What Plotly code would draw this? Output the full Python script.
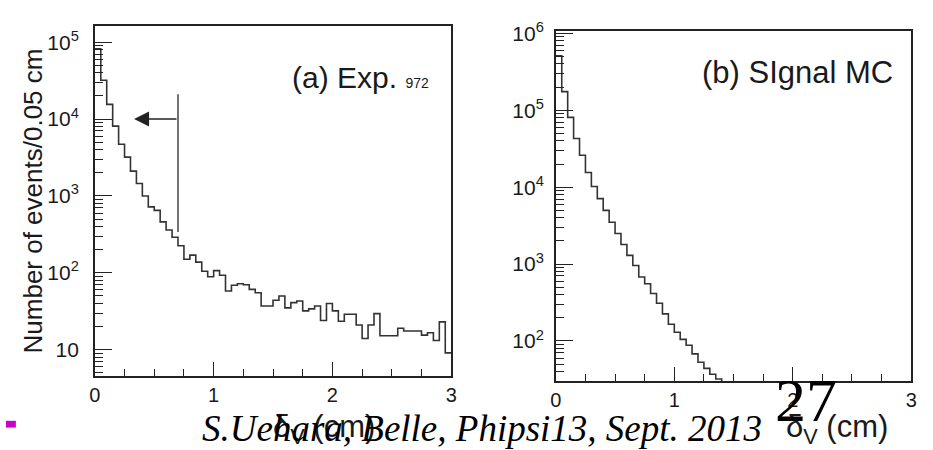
import numpy as np
import plotly.graph_objects as go

# ---------------- data ----------------
bin_width = 0.05
left_counts = [82000, 32000, 15500, 8100, 4700, 3200, 2100, 1450, 1000, 720,
               650, 460, 360, 290, 225, 150, 170, 138, 105, 89,
               107, 93, 58, 69, 72, 70, 61, 55, 37, 37,
               44, 50, 35, 41, 43, 32, 34, 37, 24, 40,
               32, 23.5, 29, 29, 21, 14, 21, 29.5, 15.2, 15.2,
               15.2, 19, 17.5, 17.5, 17.5, 15.5, 16.6, 13.2, 23, 9.1]
right_counts = [510000, 175000, 81000, 43000, 26000, 15500, 10200, 7100, 5000, 3500,
                2500, 1800, 1300, 960, 680, 555, 415, 310, 225, 165,
                130, 105, 88, 68, 53, 44, 37, 32, 20]
x_ticks = [0, 1, 2, 3]
left_ytick_vals = [10, 100, 1000, 10000, 100000]
left_ytick_text = ["10", "10<sup>2</sup>", "10<sup>3</sup>", "10<sup>4</sup>", "10<sup>5</sup>"]
right_ytick_vals = [100, 1000, 10000, 100000, 1000000]
right_ytick_text = ["10<sup>2</sup>", "10<sup>3</sup>", "10<sup>4</sup>", "10<sup>5</sup>", "10<sup>6</sup>"]
cut_value = 0.7
cut_line_y = [340, 21000]
arrow_tip_x = 0.33
arrow_y = 10000

W, H = 933, 450
LINE = "#333333"
TXT = "#1a1a1a"
SANS = "Liberation Sans, Arial, sans-serif"
SERIF = "Liberation Serif, Times New Roman, serif"


def step_xy(counts):
    n = len(counts)
    edges = [round(i * bin_width, 4) for i in range(n + 1)]
    return edges, list(counts) + [counts[-1]]


def minor_log(lo, hi):
    vals = []
    for d in range(lo, hi):
        for m in range(2, 10):
            vals.append(m * 10 ** d)
    return vals


fig = go.Figure()
lx, ly = step_xy(left_counts)
fig.add_trace(go.Scatter(x=lx, y=ly, mode="lines", line=dict(color=LINE, width=1.6, shape="hv"),
                         xaxis="x", yaxis="y", showlegend=False, hoverinfo="skip"))
rx, ry = step_xy(right_counts)
fig.add_trace(go.Scatter(x=rx, y=ry, mode="lines", line=dict(color=LINE, width=1.6, shape="hv"),
                         xaxis="x2", yaxis="y2", showlegend=False, hoverinfo="skip"))
# cut line
fig.add_trace(go.Scatter(x=[cut_value, cut_value], y=cut_line_y, mode="lines",
                         line=dict(color="#444444", width=1.5), xaxis="x", yaxis="y",
                         showlegend=False, hoverinfo="skip"))


def px_x(p):
    return p / W


def px_y(p):
    return 1 - p / H


common_x = dict(range=[0, 3], tickvals=x_ticks, ticktext=[str(v) for v in x_ticks],
                ticks="inside", ticklen=14, tickwidth=1.2, tickcolor="#222",
                showline=True, linecolor="#222", linewidth=1.5, mirror=True,
                showgrid=False, zeroline=False, ticklabelstandoff=0,
                tickfont=dict(family=SANS, size=20, color=TXT),
                minor=dict(ticks="inside", ticklen=7, tickwidth=1.2, tickcolor="#222",
                           dtick=0.25, tick0=0, showgrid=False))

fig.update_layout(
    width=W, height=H, margin=dict(l=0, r=0, t=0, b=0),
    paper_bgcolor="white", plot_bgcolor="white",
    xaxis=dict(domain=[px_x(90), px_x(451)], anchor="y", **common_x),
    yaxis=dict(domain=[px_y(374), px_y(14)], anchor="x", type="log", range=[0.658, 5.215],
               tickvals=left_ytick_vals, ticktext=left_ytick_text,
               ticks="inside", ticklen=17, tickwidth=1.2, tickcolor="#222",
               showline=True, linecolor="#222", linewidth=1.5, mirror=True,
               showgrid=False, zeroline=False, ticklabelstandoff=10,
               tickfont=dict(family=SANS, size=21, color=TXT),
               minor=dict(ticks="inside", ticklen=8, tickwidth=1.2, tickcolor="#222",
                          tickmode="array", tickvals=minor_log(0, 6), showgrid=False)),
    xaxis2=dict(domain=[px_x(557), px_x(917)], anchor="y2", **common_x),
    yaxis2=dict(domain=[px_y(379), px_y(20)], anchor="x2", type="log", range=[1.481, 6.025],
                tickvals=right_ytick_vals, ticktext=right_ytick_text,
                ticks="inside", ticklen=17, tickwidth=1.2, tickcolor="#222",
                showline=True, linecolor="#222", linewidth=1.5, mirror=True,
                showgrid=False, zeroline=False, ticklabelstandoff=6,
                tickfont=dict(family=SANS, size=21, color=TXT),
                minor=dict(ticks="inside", ticklen=8, tickwidth=1.2, tickcolor="#222",
                           tickmode="array", tickvals=minor_log(1, 7), showgrid=False)),
)

annotations = [
    # arrow
    dict(x=arrow_tip_x, y=np.log10(arrow_y), ax=cut_value, ay=np.log10(arrow_y),
         xref="x", yref="y", axref="x", ayref="y", text="", showarrow=True,
         arrowhead=2, arrowsize=2, arrowwidth=1.5, arrowcolor="#222"),
    dict(x=px_x(431), y=px_y(67), xref="paper", yref="paper", xanchor="right", yanchor="middle",
         text="(a) Exp. <span style='font-size:14px'>972</span>", showarrow=False,
         font=dict(family=SANS, size=30, color=TXT)),
    dict(x=px_x(901), y=px_y(62), xref="paper", yref="paper", xanchor="right", yanchor="middle",
         text="(b) SIgnal MC", showarrow=False, font=dict(family=SANS, size=31, color=TXT)),
    dict(x=px_x(27), y=px_y(194), xref="paper", yref="paper", xanchor="center", yanchor="middle",
         text="Number of events/0.05 cm", textangle=-90, showarrow=False,
         font=dict(family=SANS, size=26, color=TXT)),
    dict(x=px_x(268), y=px_y(428), xref="paper", yref="paper", xanchor="left", yanchor="middle",
         text="δ<sub>V</sub> (cm)", showarrow=False, font=dict(family=SANS, size=31, color=TXT)),
    dict(x=px_x(788), y=px_y(428), xref="paper", yref="paper", xanchor="left", yanchor="middle",
         text="δ<sub>V</sub> (cm)", showarrow=False, font=dict(family=SANS, size=31, color=TXT)),
    dict(x=px_x(197), y=px_y(428), xref="paper", yref="paper", xanchor="left", yanchor="middle",
         text="<i>S.Uehara, Belle, Phipsi13, Sept. 2013</i>", showarrow=False,
         font=dict(family=SERIF, size=37, color="black")),
    dict(x=px_x(810), y=px_y(399), xref="paper", yref="paper", xanchor="center", yanchor="middle",
         text="27", showarrow=False, font=dict(family=SERIF, size=62, color="black")),
]
fig.update_layout(annotations=annotations)

fig.add_shape(type="rect", xref="paper", yref="paper",
              x0=0, x1=px_x(10), y0=px_y(427), y1=px_y(420),
              fillcolor="#CC00CC", line=dict(width=0))

fig.write_html("out.html")
